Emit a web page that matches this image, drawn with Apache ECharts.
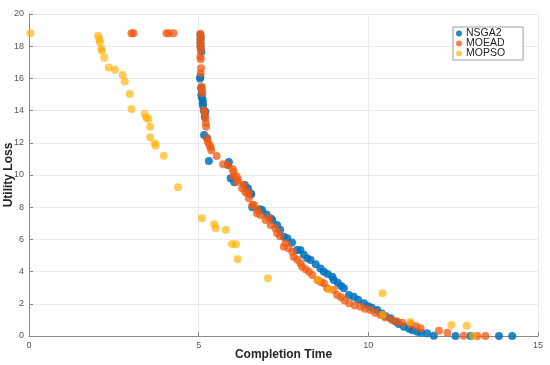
<!DOCTYPE html>
<html>
<head>
<meta charset="utf-8">
<script src="https://cdn.jsdelivr.net/npm/echarts@6/dist/echarts.min.js"></script>
<style>html,body{margin:0;padding:0;background:#fff}#c{width:550px;height:365px}</style>
</head>
<body>
<div id="c"></div>
<script>
const seriesNames = ['NSGA2', 'MOEAD', 'MOPSO'];
const xTicks = [0, 5, 10, 15];
const yTicks = [0, 2, 4, 6, 8, 10, 12, 14, 16, 18, 20];

const nsga2 = [
  [5.05,18.7],[5.06,18.45],[5.05,18.2],[5.06,17.95],[5.08,17.66],[5.05,16.1],[5.04,16.0],[5.07,15.4],[5.08,15.0],
  [5.09,14.85],[5.12,14.66],[5.12,14.45],[5.13,14.3],[5.15,14.0],[5.2,13.93],[5.18,13.62],[5.16,12.48],[5.25,12.28],
  [5.30,10.87],[5.87,10.62],[5.89,10.8],[5.94,9.8],[6.05,9.55],[6.36,9.38],[6.45,9.17],[6.53,8.86],[6.55,8.8],
  [6.58,8.0],[6.8,7.87],[6.87,7.83],[7.0,7.55],[7.12,7.31],[7.17,7.2],[7.31,6.9],[7.4,6.6],[7.51,6.17],[7.61,6.07],
  [7.75,5.8],[7.9,5.34],[8.0,5.34],[8.1,5.05],[8.2,4.83],[8.3,4.72],[8.45,4.45],[8.59,4.2],[8.69,3.99],[8.8,3.85],
  [8.94,3.68],[8.98,3.48],[9.1,3.3],[9.2,3.1],[9.28,2.96],[9.43,2.55],[9.57,2.44],[9.7,2.25],[9.87,2.03],[10.0,1.85],
  [10.1,1.75],[10.26,1.61],[10.4,1.4],[10.5,1.25],[10.65,1.1],[10.8,0.9],[10.9,0.75],[11.05,0.58],[11.2,0.45],
  [11.3,0.35],[11.44,0.27],[11.55,0.2],[11.73,0.17],[11.93,0.02],[12.57,0],[13.01,0],[13.85,0],[14.24,0]
];

const moead = [
  [3.02,18.8],[3.08,18.8],[4.05,18.8],[4.12,18.8],[4.26,18.8],
  [5.05,18.78],[5.06,18.6],[5.05,18.4],[5.06,18.18],[5.05,17.97],[5.06,17.76],[5.05,17.34],[5.06,17.19],[5.07,16.63],
  [5.06,16.32],[5.09,15.49],[5.10,15.28],[5.11,15.07],[5.16,14.04],[5.18,13.83],[5.2,13.52],[5.21,13.21],[5.22,13.0],
  [5.25,12.28],[5.27,12.07],[5.32,11.86],[5.35,11.72],[5.37,11.53],[5.53,11.18],[5.72,10.66],[5.86,10.62],[6.0,10.37],
  [6.03,10.2],[6.04,9.9],[6.12,9.9],[6.16,9.69],[6.14,9.58],[6.28,9.17],[6.33,9.38],[6.37,8.96],[6.43,8.86],[6.48,8.55],
  [6.48,8.85],[6.58,8.14],[6.63,8.14],[6.74,7.83],[6.72,7.62],[6.82,7.52],[6.97,7.2],[7.07,7.31],[7.12,6.9],[7.26,6.69],
  [7.31,6.38],[7.4,6.2],[7.51,5.55],[7.56,5.76],[7.65,5.45],[7.76,5.24],[7.8,4.93],[7.9,4.75],[8.0,4.52],[8.05,4.3],
  [8.15,4.15],[8.25,3.99],[8.35,3.79],[8.5,3.48],[8.6,3.35],[8.69,3.27],[8.79,2.96],[8.98,2.86],[9.08,2.55],[9.2,2.4],
  [9.3,2.2],[9.43,2.03],[9.6,1.9],[9.77,1.82],[9.9,1.7],[10.06,1.61],[10.2,1.45],[10.36,1.3],[10.5,1.15],[10.7,0.99],
  [10.85,0.9],[11.0,0.83],[11.24,0.75],[11.4,0.6],[11.54,0.48],[12.08,0.33],[12.33,0.2],[12.81,0.02],[13.21,0],[13.45,0]
];

const mopso = [
  [0.04,18.8],[2.04,18.65],[2.07,18.45],[2.09,18.24],[2.13,17.83],[2.15,17.72],[2.22,17.29],[2.35,16.67],[2.53,16.54],
  [2.76,16.21],[2.82,15.8],[2.97,15.03],[3.02,14.1],[3.41,13.79],[3.46,13.56],[3.52,13.48],[3.57,13.0],[3.57,12.34],
  [3.71,11.97],[3.73,11.84],[3.97,11.2],[4.39,9.24],[5.09,7.31],[5.46,6.94],[5.5,6.69],[5.8,6.6],[5.98,5.71],[6.1,5.7],
  [6.15,4.76],[7.04,3.58],[8.52,3.5],[8.85,2.88],[10.42,2.66],[10.43,1.32],[11.24,0.87],[12.45,0.69],[12.9,0.63],[13.08,0.0]
];

const colors = ['#0072BD', '#F25A10', '#FFB000'];
const opac = [0.85, 0.75, 0.65];
const datasets = [nsga2, moead, mopso];

const chart = echarts.init(document.getElementById('c'), null, {renderer: 'canvas'});
const font = 'Liberation Sans, Arial, Helvetica, sans-serif';
chart.setOption({
  animation: false,
  backgroundColor: '#fff',
  grid: {left: 29, right: 12, top: 14, bottom: 29, containLabel: false, outerBoundsMode: 'none'},
  legend: {
    orient: 'vertical', left: 453, top: 27,
    backgroundColor: '#fff', borderColor: '#a0a0a0', borderWidth: 1, borderRadius: 0,
    padding: [1, 18, 1, 3], itemGap: -1, itemWidth: 6, itemHeight: 6, icon: 'circle',
    textStyle: {fontFamily: font, fontSize: 10.5, color: '#222', lineHeight: 10, padding: [0,0,0,-1]},
    data: seriesNames
  },
  xAxis: {
    type: 'value', min: xTicks[0], max: xTicks[xTicks.length-1], interval: 5,
    name: 'Completion Time', nameLocation: 'middle', nameGap: 13, nameMoveOverlap: false,
    nameTextStyle: {fontFamily: font, fontSize: 12, fontWeight: 'bold', color: '#262626'},
    axisLine: {show: true, lineStyle: {color: '#8a8a8a', width: 1}},
    axisTick: {show: true, inside: true, length: 4, lineStyle: {color: '#8a8a8a'}},
    axisLabel: {fontFamily: font, fontSize: 9, color: '#555', margin: 5},
    splitLine: {show: true, lineStyle: {color: '#ebebeb', width: 1}}
  },
  yAxis: {
    type: 'value', min: yTicks[0], max: yTicks[yTicks.length-1], interval: 2,
    name: 'Utility Loss', nameLocation: 'middle', nameGap: 14, nameMoveOverlap: false,
    nameTextStyle: {fontFamily: font, fontSize: 12, fontWeight: 'bold', color: '#262626'},
    axisLine: {show: true, lineStyle: {color: '#8a8a8a', width: 1}},
    axisTick: {show: true, inside: true, length: 4, lineStyle: {color: '#8a8a8a'}},
    axisLabel: {fontFamily: font, fontSize: 9, color: '#555', margin: 5},
    splitLine: {show: true, lineStyle: {color: '#ebebeb', width: 1}}
  },
  series: seriesNames.map((n, i) => ({
    name: n, type: 'scatter', data: datasets[i], symbol: 'circle', symbolSize: 8,
    itemStyle: {color: colors[i], opacity: opac[i]}, z: 2 + i
  }))
});
</script>
</body>
</html>
